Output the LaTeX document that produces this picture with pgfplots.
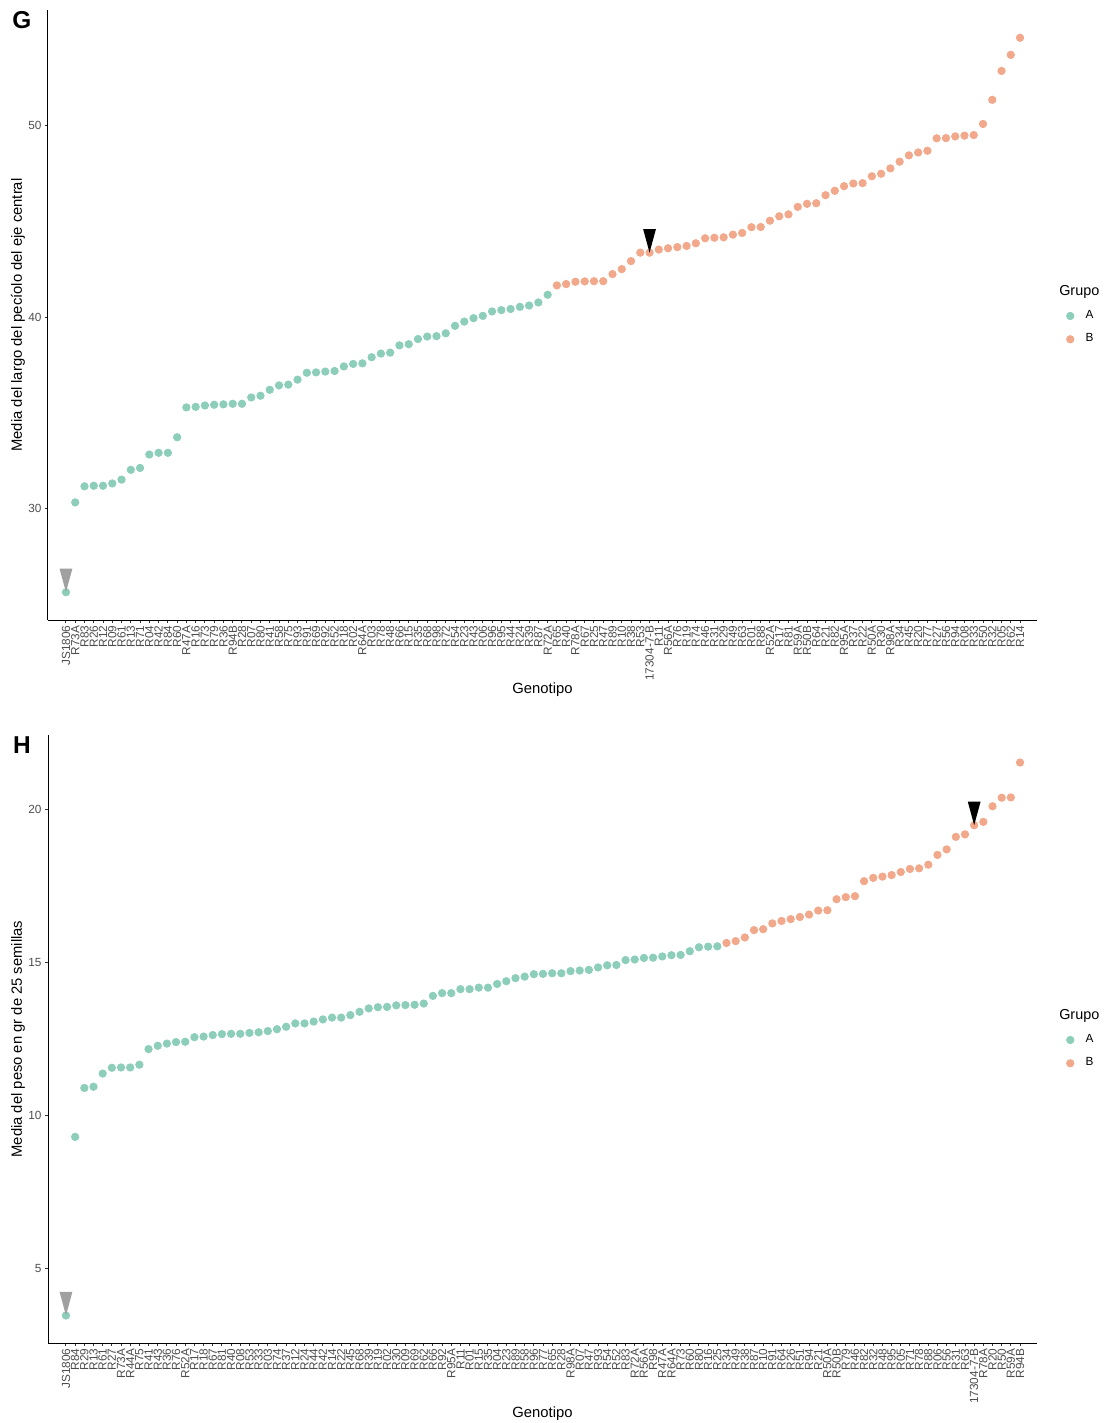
\documentclass[border=0pt]{standalone}
\usepackage{pgfplots}
\pgfplotsset{compat=1.18}
\usepackage{pgfplotstable}
\usepackage{fontspec}
\setmainfont{Liberation Sans}
\definecolor{grpA}{RGB}{140,206,185}
\definecolor{grpB}{RGB}{242,168,138}
\definecolor{tickgray}{RGB}{77,77,77}
\definecolor{tickline}{RGB}{51,51,51}
\definecolor{arrowgray}{RGB}{160,160,160}
\newcommand\tickfont{\fontsize{5.9}{6.5}\selectfont}
\newcommand\titlefont{\fontsize{7.4}{8.5}\selectfont}
\pgfdeclareplotmark{darrow}{%
  \pgfpathmoveto{\pgfqpoint{0pt}{0pt}}%
  \pgfpathlineto{\pgfqpoint{-3.2pt}{11.8pt}}%
  \pgfpathlineto{\pgfqpoint{3.2pt}{11.8pt}}%
  \pgfpathclose
  \pgfusepathqfill
}

\pgfplotstableread{
x y
1 25.64
2 30.33
3 31.17
4 31.20
5 31.20
6 31.32
7 31.52
8 32.03
9 32.13
10 32.83
11 32.92
12 32.92
13 33.73
14 35.29
15 35.32
16 35.39
17 35.43
18 35.45
19 35.48
20 35.48
21 35.81
22 35.90
23 36.21
24 36.44
25 36.48
26 36.74
27 37.10
28 37.12
29 37.16
30 37.19
31 37.43
32 37.56
33 37.59
34 37.91
35 38.10
36 38.15
37 38.53
38 38.59
39 38.86
40 38.99
41 39.01
42 39.16
43 39.55
44 39.77
45 39.95
46 40.07
47 40.30
48 40.37
49 40.43
50 40.54
51 40.61
52 40.77
53 41.17
}\GA

\pgfplotstableread{
x y
54 41.66
55 41.73
56 41.85
57 41.87
58 41.88
59 41.88
60 42.25
61 42.51
62 42.93
63 43.37
64 43.37
65 43.53
66 43.60
67 43.66
68 43.72
69 43.86
70 44.12
71 44.15
72 44.17
73 44.31
74 44.40
75 44.70
76 44.71
77 45.04
78 45.27
79 45.37
80 45.76
81 45.92
82 45.95
83 46.37
84 46.60
85 46.84
86 46.98
87 47.00
88 47.36
89 47.49
90 47.77
91 48.12
92 48.45
93 48.60
94 48.69
95 49.34
96 49.35
97 49.44
98 49.48
99 49.51
100 50.09
101 51.35
102 52.86
103 53.70
104 54.59
}\GB

\pgfplotstableread{
x y
1 3.45
2 9.29
3 10.89
4 10.93
5 11.36
6 11.55
7 11.56
8 11.56
9 11.65
10 12.16
11 12.27
12 12.34
13 12.39
14 12.40
15 12.55
16 12.57
17 12.62
18 12.65
19 12.66
20 12.66
21 12.69
22 12.71
23 12.75
24 12.81
25 12.89
26 13.00
27 13.00
28 13.06
29 13.13
30 13.19
31 13.19
32 13.27
33 13.38
34 13.49
35 13.53
36 13.54
37 13.59
38 13.60
39 13.61
40 13.65
41 13.90
42 13.99
43 13.99
44 14.12
45 14.12
46 14.17
47 14.17
48 14.29
49 14.38
50 14.48
51 14.53
52 14.61
53 14.62
54 14.64
55 14.64
56 14.71
57 14.73
58 14.75
59 14.83
60 14.90
61 14.91
62 15.07
63 15.09
64 15.14
65 15.15
66 15.19
67 15.23
68 15.24
69 15.36
70 15.49
71 15.51
72 15.52
}\HA

\pgfplotstableread{
x y
73 15.63
74 15.69
75 15.81
76 16.05
77 16.08
78 16.27
79 16.35
80 16.41
81 16.48
82 16.56
83 16.69
84 16.70
85 17.06
86 17.13
87 17.16
88 17.65
89 17.76
90 17.80
91 17.85
92 17.95
93 18.05
94 18.07
95 18.19
96 18.51
97 18.69
98 19.10
99 19.18
100 19.48
101 19.59
102 20.10
103 20.38
104 20.39
105 21.53
}\HB

\pgfplotsset{
  panel/.style={
    scale only axis,
    anchor=north west,
    width=494.5pt,
    axis lines=left,
    axis line style={-, black, line width=0.5pt},
    xtick pos=bottom, ytick pos=left,
    tick align=outside,
    major tick length=1.6pt,
    tick style={tickline, line width=0.5pt},
    /pgf/number format/assume math mode=true,
    xticklabel style={rotate=90, anchor=east, font=\tickfont, text=tickgray, inner sep=1pt},
    yticklabel style={font=\tickfont, text=tickgray, inner sep=1.5pt},
    label style={font=\titlefont, text=black},
    ylabel style={at={(axis description cs:-0.0303,0.5)}, anchor=center, rotate=0},
    legend style={draw=none, fill=none, anchor=west, font=\tickfont, row sep=4.5pt, inner sep=0pt,
      nodes={inner sep=0.8pt}},
    legend cell align=left,
    legend image code/.code={\node[draw=none, fill=none, inner sep=0pt, minimum width=12pt, minimum height=4pt, anchor=west] at (0pt,0pt) {}; \draw[##1] plot coordinates {(5.3pt,0pt)};},
    clip=false,
  }
}

\begin{document}
\begin{tikzpicture}
\path[use as bounding box] (0pt,0pt) rectangle (554pt,-711.5pt);

\begin{axis}[panel,
  at={(24pt,-5pt)}, height=305pt,
  xmin=-0.94, xmax=105.83, ymin=24.19, ymax=56.04,
  ytick={30,40,50},
  xtick={1,...,104},
  xticklabels={JS1806,R73A,R83,R26,R12,R09,R61,R13,R71,R04,R42,R84,R60,R47A,R16,R73,R79,R36,R94B,R28,R07,R80,R41,R58,R75,R93,R91,R69,R92,R52,R18,R02,R64A,R03,R78,R48,R66,R15,R35,R68,R98,R72,R54,R23,R43,R06,R96,R95,R44,R24,R39,R87,R72A,R65,R40,R78A,R67,R25,R47,R89,R10,R38,R53,17304-7-B,R11,R56A,R76,R19,R74,R46,R31,R29,R49,R63,R01,R88,R52A,R17,R81,R59A,R50B,R64,R21,R82,R95A,R37,R22,R50A,R30,R98A,R34,R45,R20,R77,R27,R56,R94,R08,R33,R50,R32,R05,R62,R14},
  xlabel={Genotipo},
  xlabel style={at={(axis description cs:0.5,-0.1148)}, anchor=center},
  ylabel={Media del largo del pecíolo del eje central},
  legend style={at={(axis description cs:1.0225,0.5)}},
]
\addlegendimage{empty legend}
\addlegendentry{\hspace*{-13.2pt}\fontsize{7.2}{8}\selectfont Grupo}
\addplot[only marks, mark=*, mark size=1.85pt, color=grpA] table {\GA};
\addlegendentry{A}
\addplot[only marks, mark=*, mark size=1.85pt, color=grpB] table {\GB};
\addlegendentry{B}
\addplot[only marks, mark=darrow, color=arrowgray, forget plot] coordinates {(1,25.64)};
\addplot[only marks, mark=darrow, color=black, forget plot] coordinates {(64,43.37)};
\node[font=\bfseries\fontsize{12.2}{13}\selectfont, anchor=center] at (axis description cs:-0.0263,0.9836) {G};
\end{axis}

\begin{axis}[panel,
  at={(24pt,-367.5pt)}, height=304pt,
  xmin=-0.96, xmax=106.85, ymin=2.55, ymax=22.43,
  ytick={5,10,15,20},
  xtick={1,...,105},
  xticklabels={JS1806,R84,R29,R13,R61,R27,R73A,R44A,R75,R41,R43,R36,R76,R52A,R17,R18,R67,R81,R40,R08,R53,R33,R03,R74,R37,R12,R24,R44,R42,R14,R22,R45,R68,R39,R19,R02,R30,R09,R69,R62,R66,R92,R95A,R11,R01,R15,R35,R04,R23,R89,R58,R96,R77,R65,R28,R98A,R07,R47,R93,R54,R52,R83,R72A,R56A,R98,R47A,R64A,R73,R60,R80,R16,R25,R34,R49,R38,R87,R10,R91,R64,R26,R51,R94,R21,R50A,R50B,R79,R46,R82,R32,R48,R95,R05,R71,R78,R88,R06,R56,R31,R63,17304-7-B,R78A,R20,R50,R59A,R94B},
  xlabel={Genotipo},
  xlabel style={at={(axis description cs:0.5,-0.1168)}, anchor=center},
  ylabel={Media del peso en gr de 25 semillas},
  legend style={at={(axis description cs:1.0225,0.5)}},
]
\addlegendimage{empty legend}
\addlegendentry{\hspace*{-13.2pt}\fontsize{7.2}{8}\selectfont Grupo}
\addplot[only marks, mark=*, mark size=1.85pt, color=grpA] table {\HA};
\addlegendentry{A}
\addplot[only marks, mark=*, mark size=1.85pt, color=grpB] table {\HB};
\addlegendentry{B}
\addplot[only marks, mark=darrow, color=arrowgray, forget plot] coordinates {(1,3.45)};
\addplot[only marks, mark=darrow, color=black, forget plot] coordinates {(100,19.48)};
\node[font=\bfseries\fontsize{12.2}{13}\selectfont, anchor=center] at (axis description cs:-0.0263,0.9836) {H};
\end{axis}
\end{tikzpicture}
\end{document}
